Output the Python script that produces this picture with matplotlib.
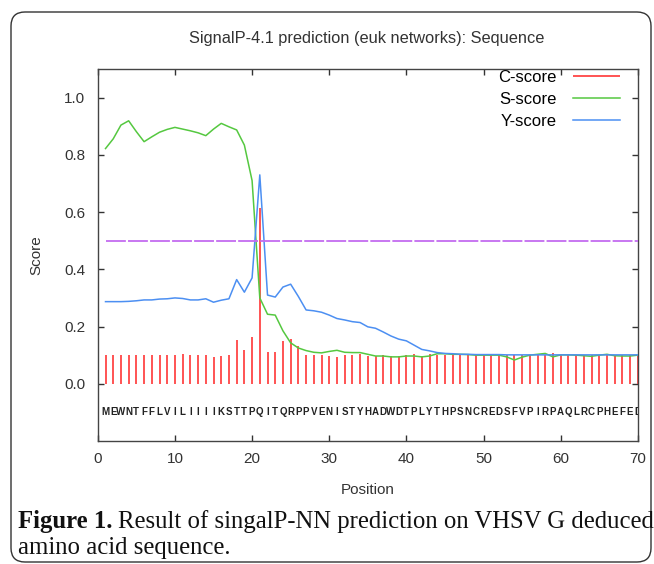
import numpy as np
import matplotlib
matplotlib.use("Agg")
import matplotlib.pyplot as plt
from matplotlib.patches import FancyBboxPatch

plt.rcParams['font.family'] = ['Liberation Sans', 'DejaVu Sans']

sequence = "MEWNTFFLVILIIIIKSTTPQITQRPPVENISTYHADWDTPLYTHPSNCREDSFVPIRPAQLRCPHEFED"
positions = np.arange(1, len(sequence) + 1)

c_score = [0.100, 0.100, 0.100, 0.100, 0.100, 0.100, 0.100, 0.100, 0.100, 0.100,
           0.104, 0.100, 0.100, 0.100, 0.093, 0.097, 0.100, 0.152, 0.119, 0.163,
           0.615, 0.110, 0.110, 0.148, 0.158, 0.132, 0.100, 0.100, 0.100, 0.096,
           0.093, 0.100, 0.100, 0.103, 0.097, 0.098, 0.100, 0.097, 0.097, 0.100,
           0.103, 0.097, 0.103, 0.100, 0.100, 0.100, 0.100, 0.100, 0.100, 0.100,
           0.100, 0.100, 0.100, 0.100, 0.100, 0.100, 0.100, 0.100, 0.108, 0.100,
           0.100, 0.100, 0.100, 0.100, 0.100, 0.100, 0.100, 0.100, 0.100, 0.100]

s_score = [0.822, 0.856, 0.904, 0.919, 0.881, 0.846, 0.863, 0.879, 0.889, 0.896,
           0.890, 0.884, 0.877, 0.867, 0.890, 0.910, 0.898, 0.887, 0.834, 0.710,
           0.300, 0.243, 0.240, 0.185, 0.143, 0.125, 0.116, 0.110, 0.108, 0.113,
           0.117, 0.110, 0.109, 0.109, 0.103, 0.097, 0.097, 0.094, 0.094, 0.097,
           0.097, 0.094, 0.097, 0.105, 0.105, 0.103, 0.103, 0.102, 0.100, 0.100,
           0.100, 0.100, 0.094, 0.083, 0.093, 0.100, 0.103, 0.106, 0.094, 0.101,
           0.101, 0.100, 0.098, 0.096, 0.100, 0.103, 0.098, 0.097, 0.097, 0.100]

y_score = [0.287, 0.287, 0.287, 0.288, 0.290, 0.293, 0.293, 0.296, 0.297, 0.300,
           0.298, 0.293, 0.293, 0.297, 0.285, 0.292, 0.297, 0.364, 0.320, 0.370,
           0.730, 0.310, 0.303, 0.338, 0.348, 0.305, 0.258, 0.255, 0.250, 0.240,
           0.228, 0.223, 0.217, 0.214, 0.199, 0.194, 0.181, 0.167, 0.156, 0.150,
           0.135, 0.120, 0.115, 0.109, 0.106, 0.105, 0.103, 0.103, 0.102, 0.102,
           0.102, 0.102, 0.101, 0.101, 0.101, 0.101, 0.101, 0.101, 0.101, 0.101,
           0.101, 0.101, 0.101, 0.101, 0.101, 0.101, 0.101, 0.101, 0.101, 0.101]

threshold = 0.5

W, H = 654, 564
fig = plt.figure(figsize=(W / 100, H / 100), dpi=100)

# background layer in pixel coordinates: rounded frame + caption
bg = fig.add_axes([0, 0, 1, 1], zorder=-1)
bg.set_xlim(0, W)
bg.set_ylim(H, 0)
bg.axis("off")
bg.add_patch(FancyBboxPatch((11, 12), 640, 550, boxstyle="round,pad=0,rounding_size=14",
                            fill=False, ec="#333333", lw=1.0))

ax = fig.add_axes([97.8 / W, 1 - 441 / H, 540 / W, 372 / H])
ax.vlines(positions, 0, c_score, color="#ff4545", lw=1.3, label="C-score", zorder=2)
ax.plot(positions, s_score, color="#55c840", lw=1.1, label="S-score", zorder=3)
ax.plot(positions, y_score, color="#4c8ff2", lw=1.1, label="Y-score", zorder=4)
ax.plot([positions[0], positions[-1]], [threshold, threshold], color="#c46cf0", lw=1.3,
        dashes=(11, 1.2), zorder=5)

for p, ch in zip(positions, sequence):
    ax.text(p, -0.1, ch, ha="center", va="center", fontsize=7, fontweight="bold",
            color="#222222", clip_on=True)

ax.set_xlim(0, 70)
ax.set_ylim(-0.2, 1.1)
ax.set_xticks(range(0, 71, 10))
ax.set_yticks([0.0, 0.2, 0.4, 0.6, 0.8, 1.0])
ax.set_yticklabels(["%.1f" % v for v in [0.0, 0.2, 0.4, 0.6, 0.8, 1.0]])
ax.tick_params(direction="in", top=True, right=True, length=4, width=1,
               labelsize=11, colors="#333333")
ax.tick_params(axis="x", pad=8)
ax.tick_params(axis="y", pad=9)
for s in ax.spines.values():
    s.set_color("#444444")
    s.set_linewidth(1.0)

ax.set_xlabel("Position", fontsize=11, color="#333333")
ax.xaxis.set_label_coords(0.5, -0.112)
ax.set_ylabel("Score", fontsize=11, color="#333333")
ax.yaxis.set_label_coords(-0.1, 0.5)

fig.text(367 / W, 1 - 38 / H, "SignalP-4.1 prediction (euk networks): Sequence",
         ha="center", va="center", fontsize=11.8, color="#333333")

ax.legend(loc="upper right", bbox_to_anchor=(620 / W, 1 - 70 / H), bbox_transform=fig.transFigure,
          frameon=False, markerfirst=False, handlelength=2.8, handletextpad=1.0,
          labelspacing=0.42, borderpad=0, borderaxespad=0, fontsize=12)

# caption
cap_font = dict(family="Liberation Serif", fontsize=17.8, color="#111111")
bold = bg.text(18, 528, "Figure 1.", fontweight="bold", va="baseline", ha="left", **cap_font)
renderer = fig.canvas.get_renderer()
bb = bold.get_window_extent(renderer)
bg.text(bb.x1 + 5, 528, "Result of singalP-NN prediction on VHSV G deduced",
        va="baseline", ha="left", **cap_font)
bg.text(18, 554, "amino acid sequence.", va="baseline", ha="left", **cap_font)

fig.savefig("out.png", dpi=100)
